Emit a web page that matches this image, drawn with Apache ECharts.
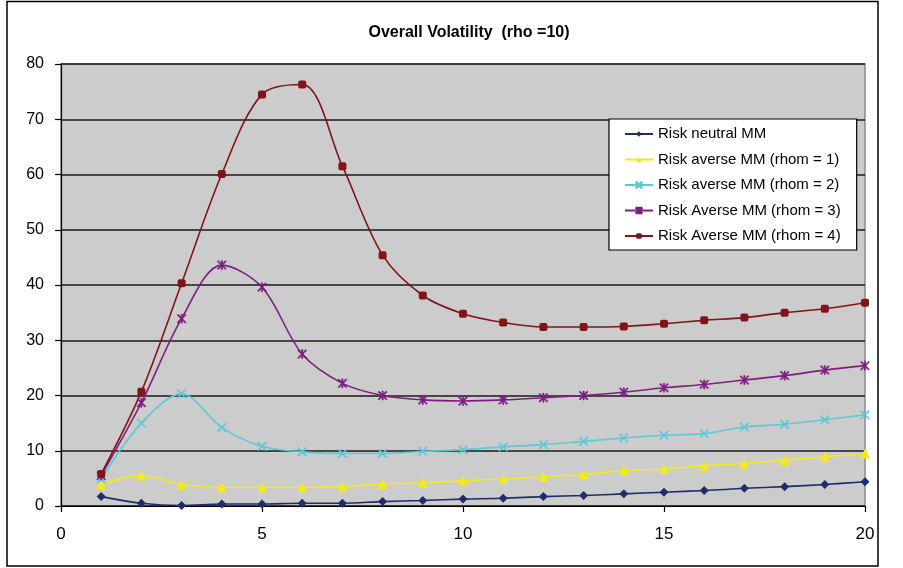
<!DOCTYPE html>
<html>
<head>
<meta charset="utf-8">
<script src="https://cdn.jsdelivr.net/npm/echarts@6/dist/echarts.min.js"></script>
<style>
html,body{margin:0;padding:0;background:#fff;}
#chart{width:903px;height:568px;}
</style>
</head>
<body>
<div id="chart"></div>
<script>
var titleText = 'Overall Volatility  (rho =10)';
var xs = [1,2,3,4,5,6,7,8,9,10,11,12,13,14,15,16,17,18,19,20];
var seriesNames = ['Risk neutral MM','Risk averse MM (rhom = 1)','Risk averse MM (rhom = 2)','Risk Averse MM (rhom = 3)','Risk Averse MM (rhom = 4)'];
var neutral = [1.7,0.5,0.1,0.35,0.35,0.5,0.5,0.8,1.0,1.25,1.4,1.7,1.9,2.2,2.5,2.8,3.2,3.5,3.9,4.4];
var rhom1 = [3.9,5.5,3.9,3.4,3.4,3.4,3.5,4.0,4.2,4.6,4.9,5.3,5.7,6.4,6.7,7.3,7.7,8.3,8.9,9.5];
var rhom2 = [4.9,15.0,20.3,14.2,10.8,9.8,9.5,9.5,9.9,10.2,10.7,11.1,11.7,12.3,12.8,13.1,14.3,14.8,15.6,16.5];
var rhom3 = [5.5,18.7,33.9,43.6,39.6,27.5,22.2,20.0,19.2,19.0,19.2,19.6,20.0,20.6,21.4,22.0,22.8,23.6,24.6,25.4];
var rhom4 = [5.8,20.7,40.3,60.1,74.5,76.3,61.5,45.4,38.1,34.8,33.2,32.4,32.4,32.5,33.0,33.6,34.1,35.0,35.7,36.8];
var xTicks = [0,20,5];   // min, max, interval
var yTicks = [0,80,10];

var FONT = '"Liberation Sans", Arial, sans-serif';
var colors = ['#1F2D6B','#F2EA1A','#5EC8D6','#7E1F80','#801418'];
var xSym = 'path://M0,1L1,0L5,4L9,0L10,1L6,5L10,9L9,10L5,6L1,10L0,9L4,5Z';
var starSym = 'path://M0,1L1,0L5,4L9,0L10,1L6,5L10,9L9,10L5,6L1,10L0,9L4,5Z M4.3,0L5.7,0L5.7,10L4.3,10Z';
var symbols = ['diamond','triangle',xSym,starSym,'roundRect'];
var sizes = [9,10,9,9,8];
var dataSets = [neutral, rhom1, rhom2, rhom3, rhom4];

function pairs(vals){ return xs.map(function(x,i){ return [x, vals[i]]; }); }

var series = dataSets.map(function(vals, i){
  return {
    name: seriesNames[i],
    type: 'line',
    data: pairs(vals),
    smooth: 0.33,
    symbol: symbols[i],
    symbolSize: sizes[i],
    showSymbol: true,
    lineStyle: {color: colors[i], width: 1.6},
    itemStyle: {color: colors[i], borderColor: colors[i], borderWidth: (i===2||i===3)?0.6:0},
    emphasis: {disabled: true},
    animation: false
  };
});

var chart = echarts.init(document.getElementById('chart'), null, {renderer: 'canvas'});
chart.setOption({
  animation: false,
  backgroundColor: '#fff',
  title: {
    text: titleText,
    left: 464, top: 20, textAlign: 'center',
    textStyle: {fontFamily: FONT, fontSize: 16, fontWeight: 'bold', color: '#000'}
  },
  grid: {
    left: 61, top: 64, right: 38, bottom: 62,
    show: true, backgroundColor: '#CCCCCC', borderColor: '#8A8A8A', borderWidth: 1.5
  },
  legend: {
    orient: 'vertical',
    left: 609, top: 119,
    padding: [7, 16, 6, 15],
    itemGap: 9.5,
    itemWidth: 28, itemHeight: 7,
    backgroundColor: '#fff',
    borderColor: '#000', borderWidth: 1.2,
    textStyle: {fontFamily: FONT, fontSize: 15, color: '#000', lineHeight: 16},
    data: seriesNames
  },
  xAxis: {
    type: 'value',
    min: xTicks[0], max: xTicks[1], interval: xTicks[2],
    axisLine: {show: true, lineStyle: {color: '#000', width: 1.2}},
    axisTick: {show: true, inside: false, length: 6, lineStyle: {color: '#000', width: 1.2}},
    axisLabel: {fontFamily: FONT, fontSize: 17, color: '#000', margin: 20},
    splitLine: {show: false}
  },
  yAxis: {
    type: 'value',
    min: yTicks[0], max: yTicks[1], interval: yTicks[2],
    axisLine: {show: true, lineStyle: {color: '#000', width: 1.2}},
    axisTick: {show: true, inside: false, length: 6, lineStyle: {color: '#000', width: 1.2}},
    axisLabel: {fontFamily: FONT, fontSize: 16, color: '#000', margin: 17},
    splitLine: {show: true, lineStyle: {color: '#1a1a1a', width: 1.5}}
  },
  graphic: [{
    type: 'rect',
    shape: {x: 7, y: 1.5, width: 871, height: 564.5},
    style: {fill: 'none', stroke: '#000', lineWidth: 1.5},
    silent: true, z: 100
  }],
  series: series
});
</script>
</body>
</html>
